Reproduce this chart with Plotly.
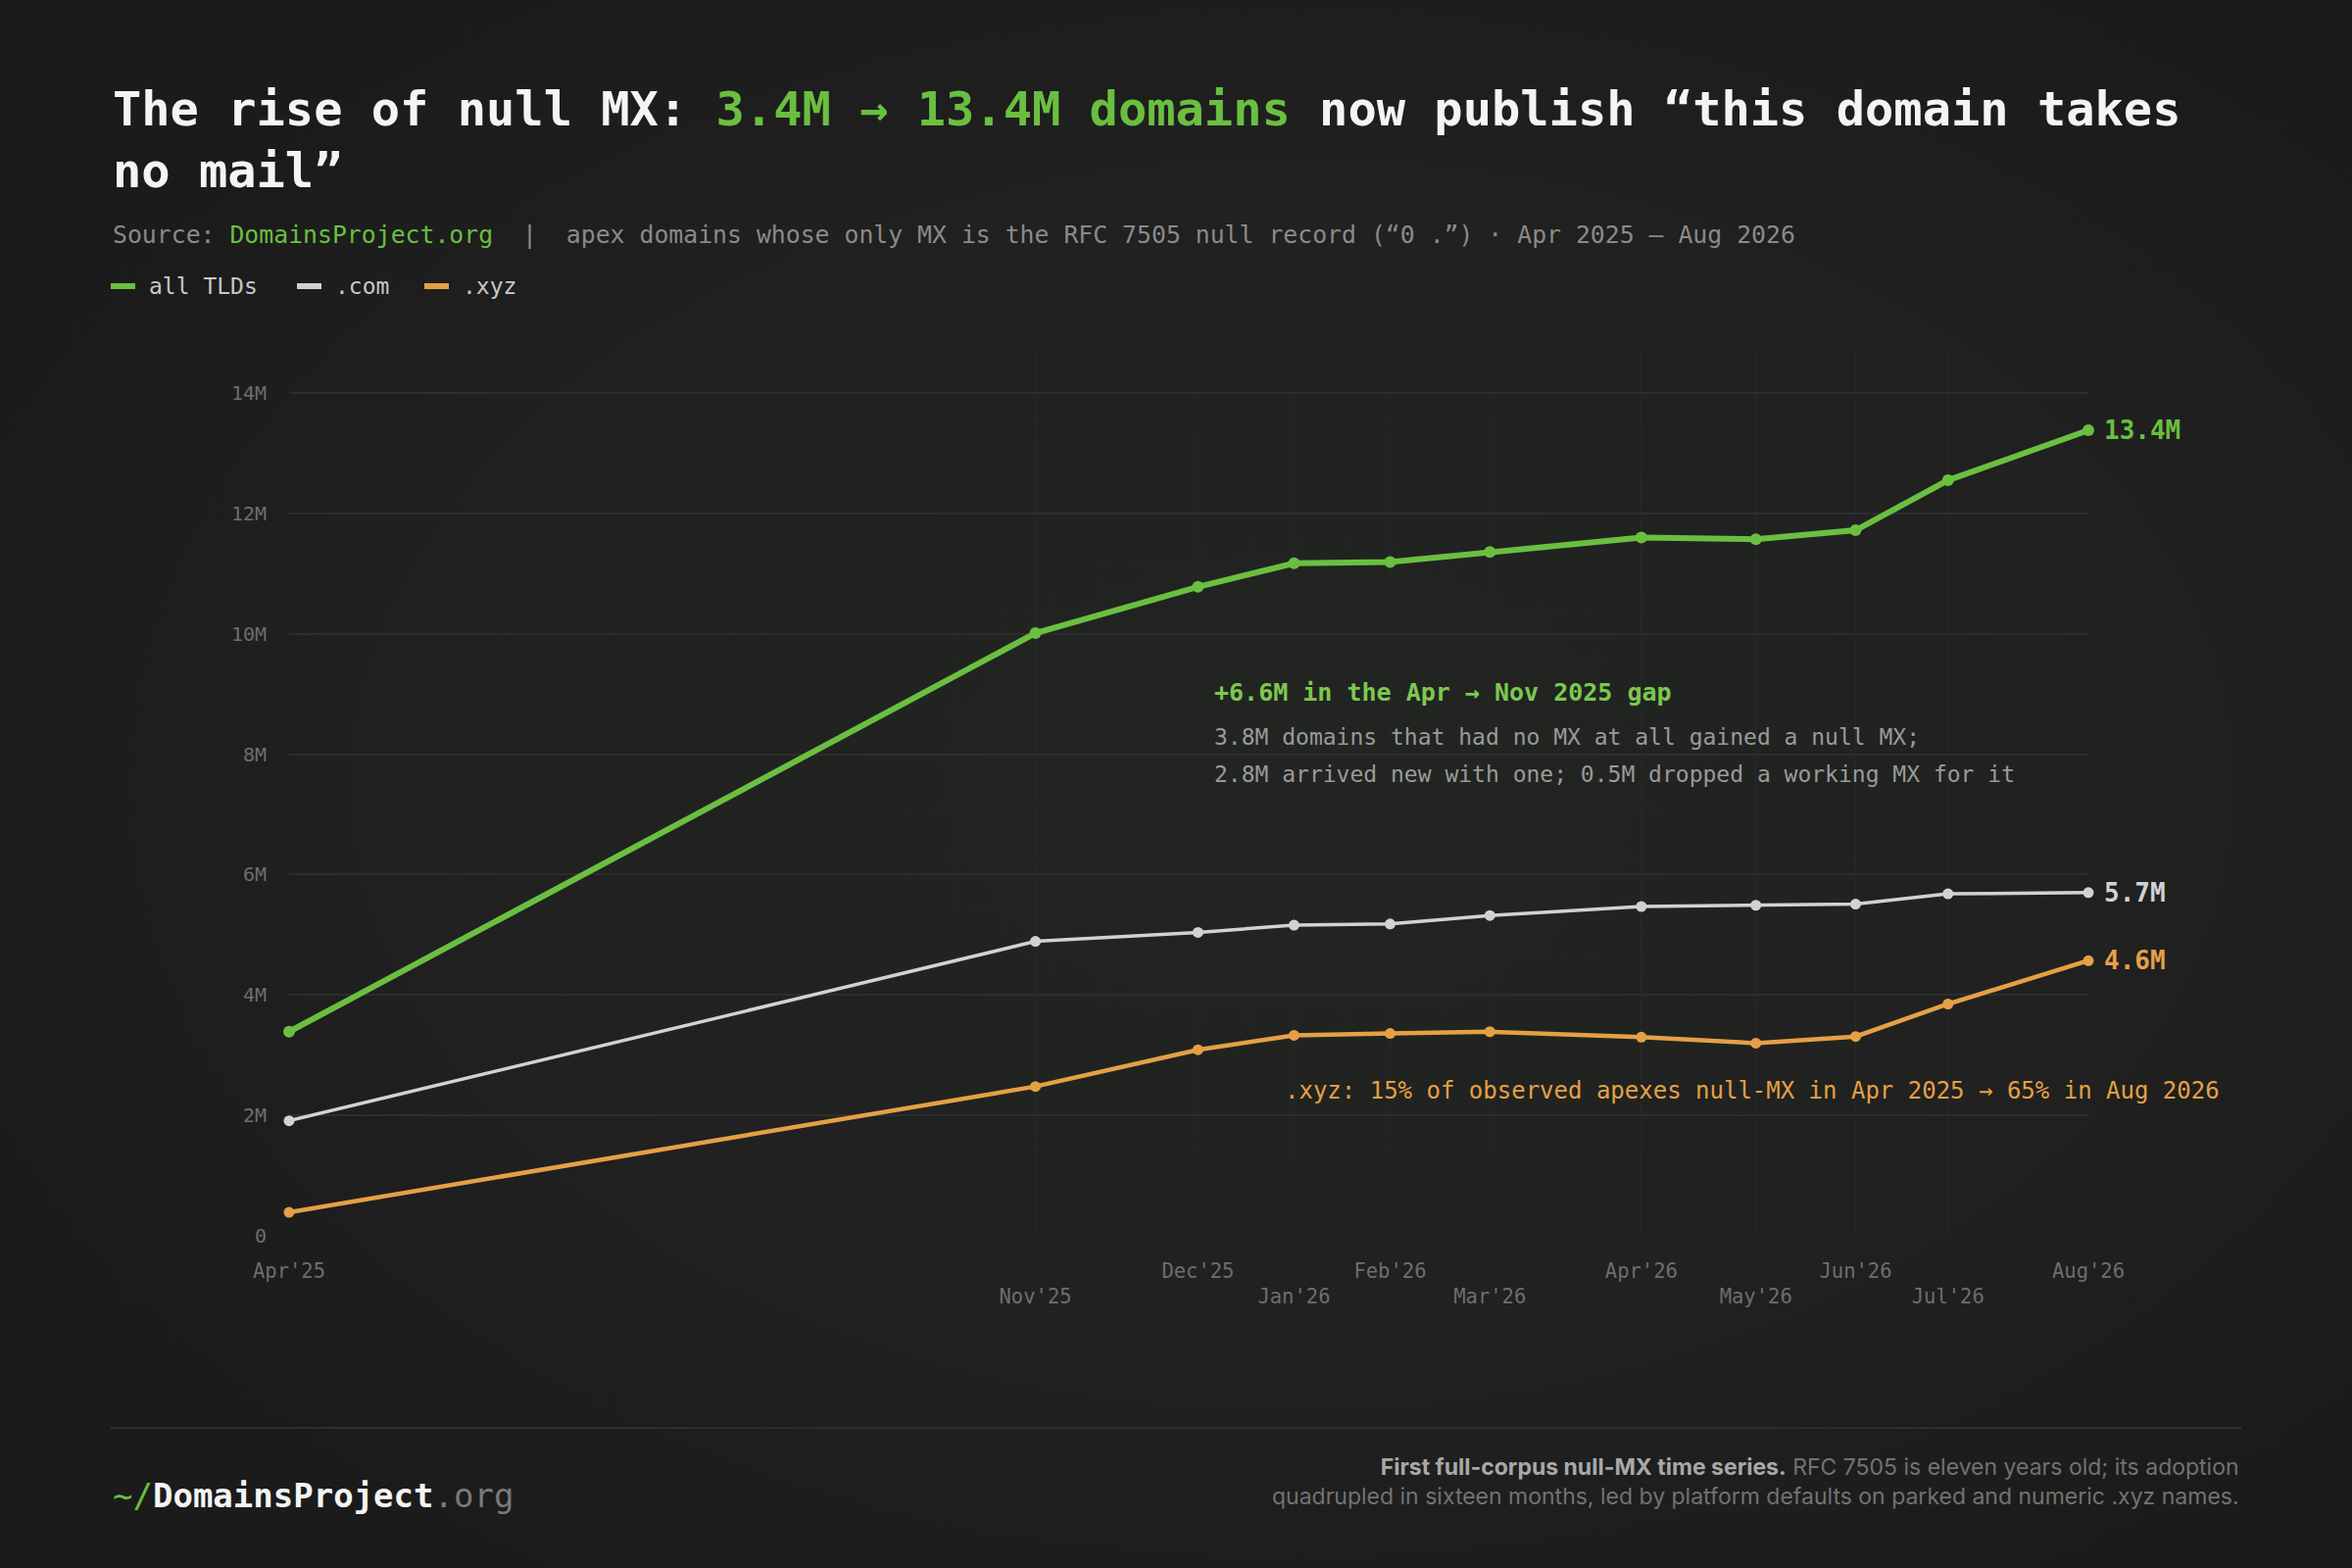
import base64
import plotly.graph_objects as go

# --- data (millions of apex domains with a null MX) ---
dates = ["2025-04-15", "2025-11-03", "2025-12-17", "2026-01-12", "2026-02-07",
         "2026-03-06", "2026-04-16", "2026-05-17", "2026-06-13", "2026-07-08",
         "2026-08-15"]
month_labels = ["Apr'25", "Nov'25", "Dec'25", "Jan'26", "Feb'26", "Mar'26",
                "Apr'26", "May'26", "Jun'26", "Jul'26", "Aug'26"]
all_tlds = [3.39, 10.01, 10.78, 11.17, 11.19, 11.36, 11.60, 11.57, 11.72, 12.55, 13.38]
com = [1.91, 4.89, 5.04, 5.16, 5.18, 5.32, 5.47, 5.49, 5.51, 5.68, 5.70]
xyz = [0.39, 2.48, 3.09, 3.33, 3.36, 3.39, 3.30, 3.20, 3.31, 3.85, 4.57]
y_ticks = [0, 2, 4, 6, 8, 10, 12, 14]

GREEN = "#6abf40"
WHITE = "#d2d2d2"
ORANGE = "#e5a045"
BG = "#1e1e1e"
MONO = "DejaVu Sans Mono"

# plot area in pixels
W_FIG, H_FIG = 2400, 1600
L, R, T, B = 295, 2131, 358, 1261
PW, PH = R - L, B - T


def px(x, y):
    return (x - L) / PW, (B - y) / PH


# soft background glow behind the chart
glow_svg = (
    '<svg xmlns="http://www.w3.org/2000/svg" width="2400" height="1600">'
    '<defs><radialGradient id="g" cx="0.55" cy="0.5" r="0.6">'
    '<stop offset="0" stop-color="#222522"/>'
    '<stop offset="0.6" stop-color="#202120"/>'
    '<stop offset="1" stop-color="#1b1b1b"/>'
    '</radialGradient></defs>'
    '<rect width="2400" height="1600" fill="url(#g)"/></svg>'
)
glow_src = "data:image/svg+xml;base64," + base64.b64encode(glow_svg.encode()).decode()

series = [
    (".xyz", xyz, ORANGE, 4.5, 11),
    (".com", com, WHITE, 3.5, 11),
    ("all TLDs", all_tlds, GREEN, 6, 12),
]

fig = go.Figure()
for name, vals, col, lw, ms in series:
    fig.add_trace(go.Scatter(
        x=dates, y=vals, name=name, mode="lines+markers",
        line=dict(color=col, width=lw),
        marker=dict(color=col, size=ms),
        cliponaxis=False, showlegend=False,
    ))

annotations = []
shapes = []

# end-of-line value labels
for name, vals, col, lw, ms in series:
    annotations.append(dict(
        x=dates[-1], y=vals[-1], xref="x", yref="y", text=f"{vals[-1]:.1f}M",
        showarrow=False, xanchor="left", yanchor="middle", xshift=14,
        font=dict(family=MONO, size=26, color=col, weight="bold"),
    ))

# title
x0, y0 = px(113, 142)
annotations.append(dict(
    x=x0, y=y0, xref="paper", yref="paper", xanchor="left", yanchor="middle",
    align="left", showarrow=False,
    text=("<b>The rise of null MX: <span style='color:%s'>3.4M → 13.4M domains</span>"
          " now publish “this domain takes<br>no mail”</b>") % GREEN,
    font=dict(family=MONO, size=48.7, color="#f4f4f4"),
))

# subtitle
x0, y0 = px(113, 240)
annotations.append(dict(
    x=x0, y=y0, xref="paper", yref="paper", xanchor="left", yanchor="middle",
    showarrow=False,
    text=("Source: <span style='color:%s'>DomainsProject.org</span>  |  apex domains whose only MX "
          "is the RFC 7505 null record (“0 .”) · Apr 2025 – Aug 2026") % GREEN,
    font=dict(family=MONO, size=24.8, color="#8a8a8a"),
))

# legend
legend_items = [("all TLDs", GREEN, 113), (".com", WHITE, 303), (".xyz", ORANGE, 433)]
for label, col, lx in legend_items:
    xa, ya = px(lx, 292)
    xb, _ = px(lx + 25, 292)
    shapes.append(dict(type="line", xref="paper", yref="paper", x0=xa, x1=xb, y0=ya, y1=ya,
                       line=dict(color=col, width=6)))
    xt, _ = px(lx + 37, 292)
    annotations.append(dict(
        x=xt, y=ya, xref="paper", yref="paper", xanchor="left", yanchor="middle",
        showarrow=False, text=label, font=dict(family=MONO, size=23, color="#c8c8c8"),
    ))

# gap annotation
x0, y0 = px(1237, 706)
annotations.append(dict(
    x=x0, y=y0, xref="paper", yref="paper", xanchor="left", yanchor="middle",
    showarrow=False, text="<b>+6.6M in the Apr → Nov 2025 gap</b>",
    font=dict(family=MONO, size=25, color="#7cc850"),
))
gap_lines = ["3.8M domains that had no MX at all gained a null MX;",
             "2.8M arrived new with one; 0.5M dropped a working MX for it"]
for i, line in enumerate(gap_lines):
    x0, y0 = px(1237, 752 + 38 * i)
    annotations.append(dict(
        x=x0, y=y0, xref="paper", yref="paper", xanchor="left", yanchor="middle",
        showarrow=False, text=line,
        font=dict(family=MONO, size=23, color="#9a9a9a"),
    ))

# xyz note
x0, y0 = px(2267, 1113)
annotations.append(dict(
    x=x0, y=y0, xref="paper", yref="paper", xanchor="right", yanchor="middle",
    showarrow=False,
    text=".xyz: 15% of observed apexes null-MX in Apr 2025 → 65% in Aug 2026",
    font=dict(family=MONO, size=24, color=ORANGE),
))

# footer
xa, ya = px(113, 1457)
xb, _ = px(2287, 1457)
shapes.append(dict(type="line", xref="paper", yref="paper", x0=xa, x1=xb, y0=ya, y1=ya,
                   line=dict(color="#2e2e2e", width=2)))
x0, y0 = px(113, 1526)
annotations.append(dict(
    x=x0, y=y0, xref="paper", yref="paper", xanchor="left", yanchor="middle",
    showarrow=False,
    text=("<span style='color:%s'>~/</span><b>DomainsProject</b>"
          "<span style='color:#7a7a7a'>.org</span>") % GREEN,
    font=dict(family=MONO, size=34, color="#f4f4f4"),
))
x0, y0 = px(2287, 1512)
annotations.append(dict(
    x=x0, y=y0, xref="paper", yref="paper", xanchor="right", yanchor="middle",
    align="right", showarrow=False,
    text=("<span style='color:#a8a8a8'><b>First full-corpus null-MX time series.</b></span>"
          " RFC 7505 is eleven years old; its adoption<br>"
          "quadrupled in sixteen months, led by platform defaults on parked and numeric .xyz names."),
    font=dict(family="Inter", size=23, color="#727272"),
))

# staggered month ticks
tick_text = [lab if i % 2 == 0 else "<br>" + lab for i, lab in enumerate(month_labels)]

fig.update_layout(
    width=W_FIG, height=H_FIG,
    margin=dict(l=L, r=W_FIG - R, t=T, b=H_FIG - B),
    paper_bgcolor=BG, plot_bgcolor="rgba(0,0,0,0)",
    annotations=annotations, shapes=shapes,
    images=[dict(source=glow_src, xref="paper", yref="paper",
                 x=-L / PW, y=1 + T / PH, sizex=W_FIG / PW, sizey=H_FIG / PH,
                 xanchor="left", yanchor="top", sizing="stretch", layer="below")],
    showlegend=False,
    xaxis=dict(
        type="date", range=[dates[0], dates[-1]],
        tickvals=dates, ticktext=tick_text,
        showgrid=True, gridcolor="#262726", gridwidth=1,
        zeroline=False, showline=False,
        ticks="outside", ticklen=17, tickcolor="rgba(0,0,0,0)",
        tickfont=dict(family=MONO, size=20.5, color="#6e6e6e"),
    ),
    yaxis=dict(
        range=[0, 14.7],
        tickvals=y_ticks, ticktext=["0" if v == 0 else f"{v}M" for v in y_ticks],
        showgrid=True, gridcolor="#2d2d2d", gridwidth=2,
        zeroline=False, showline=False,
        ticks="outside", ticklen=18, tickcolor="rgba(0,0,0,0)",
        tickfont=dict(family=MONO, size=20, color="#6e6e6e"),
    ),
)

fig.write_html(
    "out.html",
    config={"displayModeBar": False},
    post_script="document.body.style.margin='0';document.body.style.background='%s';" % BG,
)
